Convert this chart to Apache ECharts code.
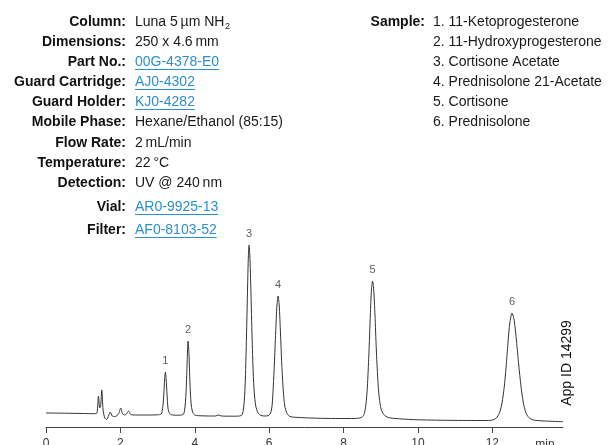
<!DOCTYPE html>
<html>
<head>
<meta charset="utf-8">
<script src="https://cdn.jsdelivr.net/npm/echarts@6/dist/echarts.min.js"></script>
<style>
html, body { margin: 0; padding: 0; background: #fff; }
#chart { width: 610px; height: 445px; }
</style>
</head>
<body>
<div id="chart"></div>
<script>
// chromatogram trace (time in min, signal in arbitrary units)
const traceTime = [
  0, 0.5, 1.0, 1.3, 1.37, 1.41, 1.445, 1.47, 1.50, 1.535, 1.58, 1.63, 1.68, 1.73, 1.78, 1.86, 1.95, 2.01, 2.06, 2.13,
  2.18, 2.22, 2.28, 2.4, 2.7, 3.0, 3.1, 3.14, 3.17, 3.19, 3.21, 3.23, 3.255, 3.28, 3.32, 3.4, 3.6, 3.7, 3.74, 3.77,
  3.795, 3.82, 3.845, 3.87, 3.9, 3.94, 4.0, 4.1, 4.4, 4.56, 4.63, 4.72, 5.0, 5.2, 5.28, 5.33, 5.36, 5.39, 5.42, 5.44,
  5.46, 5.48, 5.51, 5.54, 5.57, 5.6, 5.64, 5.7, 5.78, 5.9, 5.98, 6.04, 6.08, 6.11, 6.14, 6.175, 6.21, 6.24, 6.27, 6.305,
  6.34, 6.38, 6.42, 6.48, 6.56, 6.8, 7.5, 8.3, 8.48, 8.55, 8.6, 8.64, 8.68, 8.72, 8.75, 8.78, 8.81, 8.845, 8.88, 8.92,
  8.96, 9.01, 9.08, 9.2, 9.5, 10.0, 11.0, 11.9, 12.05, 12.13, 12.2, 12.26, 12.32, 12.37, 12.42, 12.47, 12.53, 12.59, 12.65, 12.71,
  12.77, 12.83, 12.9, 12.98, 13.1, 13.4, 13.9
]
const traceSignal = [
  14, 13.8, 13.5, 13.3, 14, 31, 19, 21, 37, 17, 9, 7.5, 11, 15, 11, 10.5, 13, 19, 13, 12,
  14, 16, 12.5, 12, 12, 12.2, 13, 20, 34, 48, 55, 48, 32, 19, 13.5, 12, 11.8, 13, 21, 38,
  65, 86, 72, 44, 24, 15, 12, 11.3, 11, 11, 12, 11, 10.8, 11, 12.5, 26, 48, 90, 140, 170,
  182, 172, 135, 90, 55, 34, 21, 14, 11.5, 11, 11.5, 14, 22, 40, 63, 95, 122, 131, 122, 93,
  62, 36, 21, 13.5, 10.5, 9.5, 8.6, 8.5, 9.5, 12.5, 22, 40, 72, 112, 137, 146, 138, 112, 78, 48,
  29, 18, 12.5, 9.5, 8.2, 7.2, 6.6, 6.5, 7.5, 10, 15, 24, 40, 60, 84, 104, 114, 106, 86, 62,
  41, 25, 14.5, 9.5, 7, 6, 5.3
]

// numbered peaks
const peakTime = [3.21, 3.82, 5.46, 6.24, 8.78, 12.53]
const peakTop = [55, 86, 182, 131, 146, 114]
const peakName = ['1', '2', '3', '4', '5', '6']

const tickValues = [0, 2, 4, 6, 8, 10, 12]

const infoLabels = ['Column:', 'Dimensions:', 'Part No.:', 'Guard Cartridge:', 'Guard Holder:', 'Mobile Phase:',
  'Flow Rate:', 'Temperature:', 'Detection:', 'Vial:', 'Filter:']
const infoValues = ['Luna 5\u2009µm NH', '250 x 4.6\u2009mm', '00G-4378-E0', 'AJ0-4302', 'KJ0-4282', 'Hexane/Ethanol (85:15)',
  '2\u2009mL/min', '22\u2009°C', 'UV @ 240\u2009nm', 'AR0-9925-13', 'AF0-8103-52']
const linkRows = [2, 3, 4, 9, 10]
const sampleList = ['1. 11-Ketoprogesterone', '2. 11-Hydroxyprogesterone', '3. Cortisone Acetate',
  '4. Prednisolone 21-Acetate', '5. Cortisone', '6. Prednisolone']

const FAMILY = '"Liberation Sans", Arial, sans-serif'
const BOLD = `bold 14px ${FAMILY}`
const REG = `14px ${FAMILY}`
const LINK = '#2b8fd0'

const ctx = document.createElement('canvas').getContext('2d')
const textWidth = (str, font) => {
  ctx.font = font
  return ctx.measureText(str).width
}

const rowY = [22, 42, 62, 82, 102, 122, 143, 163, 183, 207, 230]
const graphics = []

infoLabels.forEach((label, i) => {
  const y = rowY[i]
  const isLink = linkRows.includes(i)
  graphics.push({
    type: 'text',
    style: { text: label, x: 126, y, align: 'right', verticalAlign: 'middle', font: BOLD, fill: '#111' }
  })
  graphics.push({
    type: 'text',
    style: { text: infoValues[i], x: 135, y, align: 'left', verticalAlign: 'middle', font: REG, fill: isLink ? LINK : '#1a1a1a' }
  })
  if (isLink) {
    const w = textWidth(infoValues[i], REG)
    graphics.push({
      type: 'line',
      shape: { x1: 135, y1: y + 7.5, x2: 135 + w, y2: y + 7.5 },
      style: { stroke: LINK, lineWidth: 1 }
    })
  }
})

// subscript 2 of NH2
graphics.push({
  type: 'text',
  style: {
    text: '2', x: 135 + textWidth(infoValues[0], REG) + 0.5, y: rowY[0] + 5,
    align: 'left', verticalAlign: 'middle', font: `9px ${FAMILY}`, fill: '#1a1a1a'
  }
})

graphics.push({
  type: 'text',
  style: { text: 'Sample:', x: 425, y: rowY[0], align: 'right', verticalAlign: 'middle', font: BOLD, fill: '#111' }
})
sampleList.forEach((s, i) => {
  graphics.push({
    type: 'text',
    style: { text: s, x: 433, y: rowY[i], align: 'left', verticalAlign: 'middle', font: REG, fill: '#1a1a1a' }
  })
})

graphics.push({
  type: 'text',
  x: 567,
  y: 363,
  rotation: Math.PI / 2,
  style: { text: 'App ID 14299', x: 0, y: 0, align: 'center', verticalAlign: 'middle', font: REG, fill: '#111' }
})

graphics.push({
  type: 'text',
  style: { text: 'min', x: 545, y: 439, align: 'center', verticalAlign: 'top', font: `12px ${FAMILY}`, fill: '#333' }
})

const option = {
  animation: false,
  grid: { left: 46, right: 47, top: 227, bottom: 18, outerBoundsMode: 'none' },
  xAxis: {
    type: 'value',
    min: 0,
    max: 13.9,
    axisLine: { lineStyle: { color: '#444', width: 1 } },
    axisTick: { customValues: tickValues, length: 6, lineStyle: { color: '#444' } },
    axisLabel: { customValues: tickValues, margin: 11, fontSize: 12, color: '#333', fontFamily: FAMILY },
    splitLine: { show: false }
  },
  yAxis: {
    type: 'value',
    min: 0,
    max: 200,
    show: false
  },
  graphic: graphics,
  series: [
    {
      type: 'line',
      data: traceTime.map((t, i) => [t, traceSignal[i]]),
      showSymbol: false,
      smooth: 0.25,
      lineStyle: { color: '#333', width: 1 }
    },
    {
      type: 'scatter',
      data: peakTime.map((t, i) => [t, peakTop[i], peakName[i]]),
      symbolSize: 1,
      itemStyle: { color: 'rgba(0,0,0,0)' },
      label: {
        show: true,
        position: 'top',
        distance: 5,
        formatter: p => p.data[2],
        fontSize: 11,
        color: '#333',
        fontFamily: FAMILY
      }
    }
  ]
}

echarts.init(document.getElementById('chart')).setOption(option)
</script>
</body>
</html>
